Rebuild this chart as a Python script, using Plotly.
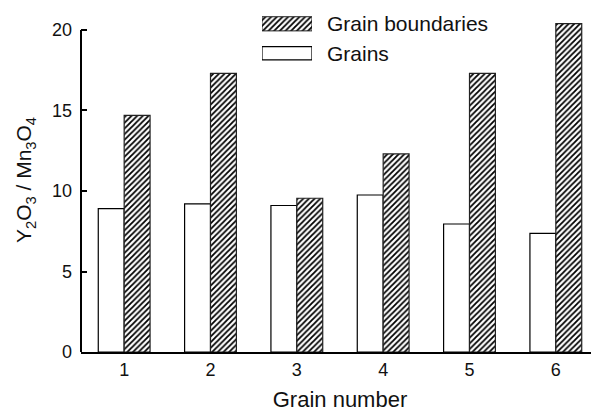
import plotly.graph_objects as go

# ---- data ----
grain_numbers = [1, 2, 3, 4, 5, 6]
grains = [8.9, 9.2, 9.1, 9.75, 7.95, 7.37]
grain_boundaries = [14.7, 17.3, 9.55, 12.3, 17.3, 20.4]
y_ticks = [0, 5, 10, 15, 20]
legend_labels = ["Grain boundaries", "Grains"]

FONT = "Liberation Sans, Arial, sans-serif"
hatch = dict(shape="/", size=4, solidity=0.45, fgcolor="black", bgcolor="white", fillmode="replace")

fig = go.Figure()
fig.add_trace(go.Bar(
    x=grain_numbers, y=grains, name="Grains",
    marker=dict(color="white", line=dict(color="black", width=1.2)),
    showlegend=False,
))
fig.add_trace(go.Bar(
    x=grain_numbers, y=grain_boundaries, name="Grain boundaries",
    marker=dict(color="white", pattern=hatch, line=dict(color="#222", width=1.2)),
    showlegend=False,
))

# custom legend swatches on an auxiliary axis pair
fig.add_trace(go.Bar(
    x=[1], y=[1], orientation="h", width=0.48, xaxis="x2", yaxis="y2",
    marker=dict(color="white", pattern=hatch, line=dict(color="#222", width=1)),
    showlegend=False, hoverinfo="skip",
))
fig.add_trace(go.Bar(
    x=[1], y=[0], orientation="h", width=0.45, xaxis="x2", yaxis="y2",
    marker=dict(color="white", line=dict(color="black", width=1.2)),
    showlegend=False, hoverinfo="skip",
))
for yy, lab in zip([0.954, 0.868], legend_labels):
    fig.add_annotation(x=0.471, y=yy, xref="paper", yref="paper", text=lab, showarrow=False,
                       xanchor="left", yanchor="middle",
                       font=dict(family=FONT, size=21, color="#111"))

# y axis line only from 0 to 20
fig.add_shape(type="line", xref="paper", yref="y", x0=0, x1=0, y0=0, y1=20,
              line=dict(color="black", width=2))

fig.update_layout(
    width=591, height=405,
    margin=dict(l=73, r=0, t=0, b=61),
    paper_bgcolor="white", plot_bgcolor="white",
    barmode="group", bargap=0.4, bargroupgap=0,
    font=dict(family=FONT, size=18, color="#111"),
    xaxis=dict(range=[0.5, 6.5], tickvals=grain_numbers, ticks="", showline=True,
               linecolor="black", linewidth=2, showgrid=False, zeroline=False,
               ticklabelstandoff=0,
               title=dict(text="Grain number", font=dict(family=FONT, size=22), standoff=13)),
    yaxis=dict(range=[0, 21.366], tickvals=y_ticks, ticks="inside", ticklen=6, tickwidth=1.5,
               tickcolor="black", showline=False, showgrid=False, zeroline=False,
               ticklabelstandoff=8,
               title=dict(text="Y<sub>2</sub>O<sub>3</sub> / Mn<sub>3</sub>O<sub>4</sub>",
                          font=dict(family=FONT, size=21), standoff=14)),
    xaxis2=dict(domain=[0.3494, 0.4459], range=[0, 1], visible=False, anchor="y2"),
    yaxis2=dict(domain=[0.82544, 0.99695], range=[-0.5, 1.5], visible=False, anchor="x2"),
)

fig.write_html("out.html")
